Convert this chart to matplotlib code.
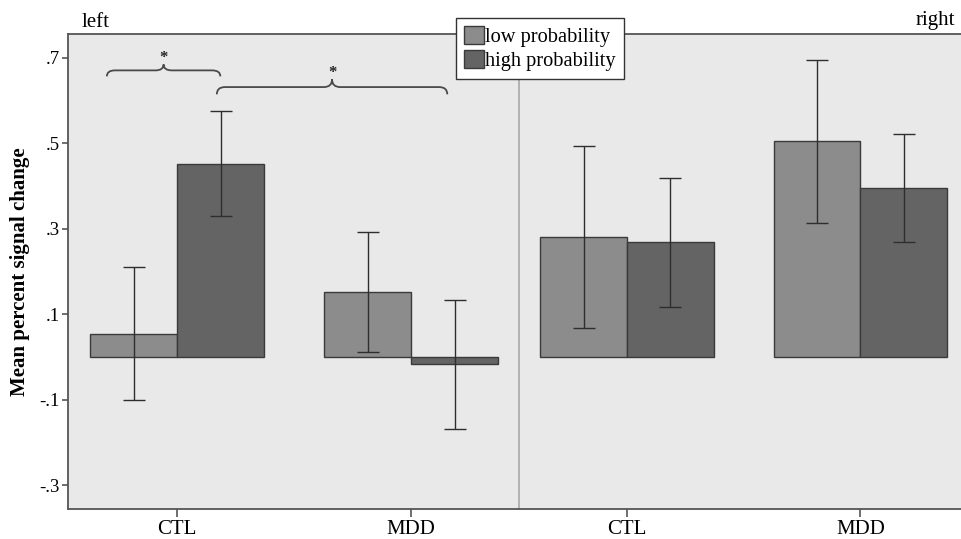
"""
Mean percent signal change, left / right, CTL vs MDD
"""
import numpy as np
import matplotlib
matplotlib.use('Agg')
import matplotlib.pyplot as plt
from matplotlib.patches import Patch, PathPatch
from matplotlib.path import Path
from matplotlib.ticker import FuncFormatter

# data
groups = ['CTL', 'MDD']
left_low = [0.055, 0.153]
left_low_err = [0.155, 0.140]
left_high = [0.452, -0.017]
left_high_err = [0.122, 0.151]
right_low = [0.280, 0.504]
right_low_err = [0.213, 0.191]
right_high = [0.268, 0.395]
right_high_err = [0.151, 0.127]
y_ticks = [-0.3, -0.1, 0.1, 0.3, 0.5, 0.7]

# significance braces on the left panel: (x start, x end, level)
braces = [(-0.30, 0.185, 0.670), (0.17, 1.155, 0.631)]

plt.rcParams['font.family'] = ['Liberation Serif', 'DejaVu Serif']

LOW_COLOR = '#8c8c8c'
HIGH_COLOR = '#646464'
EDGE = '#3a3a3a'
BG = '#e9e9e9'
SPINE = '#555555'
BAR_W = 0.372


def fmt_tick(v, pos):
    s = '%.1f' % v
    return s.replace('0.', '.')


def draw_panel(ax, low, low_err, high, high_err, xlim):
    x = np.arange(len(groups))
    ax.set_facecolor(BG)
    err_kw = dict(ecolor='#2e2e2e', elinewidth=1.0, capsize=8, capthick=1.0)
    # low bar left of the tick, high bar right of it
    ax.bar(x - BAR_W / 2, low, width=BAR_W, color=LOW_COLOR, edgecolor=EDGE,
           linewidth=1.0, zorder=2)
    ax.bar(x + BAR_W / 2, high, width=BAR_W, color=HIGH_COLOR,
           edgecolor=EDGE, linewidth=1.0, zorder=2)
    ax.errorbar(x - BAR_W / 2, low, yerr=low_err, fmt='none', zorder=3, **err_kw)
    ax.errorbar(x + BAR_W / 2, high, yerr=high_err, fmt='none', zorder=3, **err_kw)
    ax.set_xlim(*xlim)
    ax.set_ylim(-0.355, 0.755)
    ax.set_xticks(x)
    ax.set_xticklabels(groups, fontsize=15)
    ax.tick_params(axis='x', direction='out', length=6, width=1.2,
                   color=SPINE, pad=2)
    for s in ax.spines.values():
        s.set_color(SPINE)
        s.set_linewidth(1.3)


def brace(ax, x0, x1, y, h_end, h_tip, r):
    xm = (x0 + x1) / 2
    verts = [(x0, y - h_end), (x0, y), (x0 + r, y),
             (xm - r, y), (xm, y), (xm, y + h_tip),
             (xm, y), (xm + r, y),
             (x1 - r, y), (x1, y), (x1, y - h_end)]
    codes = [Path.MOVETO, Path.CURVE3, Path.CURVE3,
             Path.LINETO, Path.CURVE3, Path.CURVE3,
             Path.CURVE3, Path.CURVE3,
             Path.LINETO, Path.CURVE3, Path.CURVE3]
    ax.add_patch(PathPatch(Path(verts, codes), facecolor='none',
                           edgecolor='#4a4a4a', lw=1.3, zorder=4))
    ax.text(xm, y + h_tip - 0.004, '*', ha='center', va='bottom',
            fontsize=12, fontweight='bold', color='#222222')


fig = plt.figure(figsize=(9.62, 5.39), dpi=100)
fig.patch.set_facecolor('white')
ax1 = fig.add_axes([0.0707, 0.0557, 0.4688, 0.8812])
ax2 = fig.add_axes([0.5395, 0.0557, 0.4605, 0.8812], sharey=ax1)

draw_panel(ax1, left_low, left_low_err, left_high, left_high_err, (-0.466, 1.4615))
draw_panel(ax2, right_low, right_low_err, right_high, right_high_err, (-0.4625, 1.435))

ax1.spines['right'].set_visible(False)
ax2.spines['right'].set_visible(False)
ax2.spines['left'].set_color('#a8a8a8')
ax2.spines['left'].set_linewidth(1.2)
ax2.tick_params(axis='y', left=False, labelleft=False)

ax1.set_yticks(y_ticks)
ax1.yaxis.set_major_formatter(FuncFormatter(fmt_tick))
ax1.tick_params(axis='y', direction='out', length=4, width=1.2, color=SPINE,
                labelsize=13.5, pad=2)
ax1.set_ylabel('Mean percent signal change', fontsize=15, fontweight='bold')
ax1.yaxis.set_label_coords(-0.084, 0.5)

for x0, x1, y in braces:
    h = 0.014 if y > 0.65 else 0.017
    brace(ax1, x0, x1, y, h, 0.014 if y > 0.65 else 0.018, 0.035)

fig.text(0.085, 0.958, 'left', fontsize=15, ha='left', va='center')
fig.text(0.993, 0.962, 'right', fontsize=15, ha='right', va='center')

handles = [Patch(facecolor=LOW_COLOR, edgecolor=EDGE, label='low probability'),
           Patch(facecolor=HIGH_COLOR, edgecolor=EDGE, label='high probability')]
leg = fig.legend(handles=handles, loc='upper left', bbox_to_anchor=(0.474, 0.966),
                 bbox_transform=fig.transFigure, fontsize=14.7, frameon=True,
                 fancybox=False, framealpha=1, edgecolor='#333333',
                 handlelength=0.95, handleheight=0.95, handletextpad=0.08,
                 labelspacing=0.15, borderpad=0.4, borderaxespad=0)
leg.get_frame().set_linewidth(1.0)

plt.savefig('out.png', dpi=100)
